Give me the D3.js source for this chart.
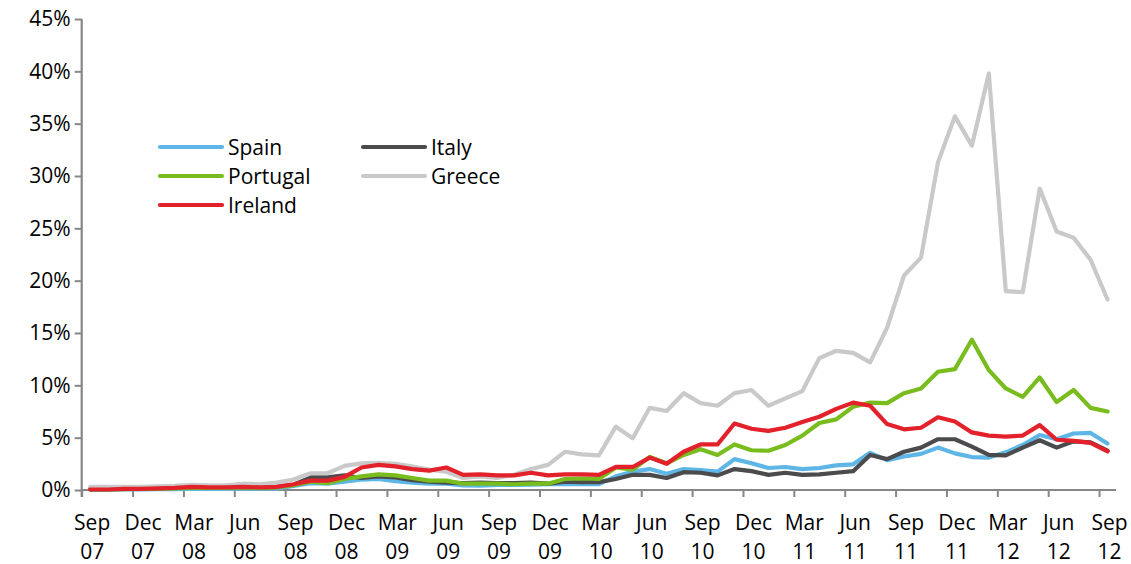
<!DOCTYPE html>
<html>
<head>
<meta charset="utf-8">
<script src="https://cdn.jsdelivr.net/npm/d3@7"></script>
<style>
  body { margin: 0; background: #fff; }
  svg { display: block; }
  text { font-family: "Open Sans", "Liberation Sans", sans-serif; fill: #000; }
</style>
</head>
<body>
<svg id="chart" width="1131" height="564"></svg>
<script>
const months = ["Sep 07","Oct 07","Nov 07","Dec 07","Jan 08","Feb 08","Mar 08","Apr 08","May 08","Jun 08","Jul 08","Aug 08",
"Sep 08","Oct 08","Nov 08","Dec 08","Jan 09","Feb 09","Mar 09","Apr 09","May 09","Jun 09","Jul 09","Aug 09",
"Sep 09","Oct 09","Nov 09","Dec 09","Jan 10","Feb 10","Mar 10","Apr 10","May 10","Jun 10","Jul 10","Aug 10",
"Sep 10","Oct 10","Nov 10","Dec 10","Jan 11","Feb 11","Mar 11","Apr 11","May 11","Jun 11","Jul 11","Aug 11",
"Sep 11","Oct 11","Nov 11","Dec 11","Jan 12","Feb 12","Mar 12","Apr 12","May 12","Jun 12","Jul 12","Aug 12","Sep 12"];

const spain = [0.02,0.02,0.05,0.05,0.07,0.08,0.1,0.1,0.1,0.15,0.12,0.15,
0.4,0.65,0.6,0.8,1.0,1.05,0.85,0.7,0.6,0.6,0.45,0.42,
0.48,0.48,0.52,0.55,0.57,0.57,0.57,1.3,1.75,2.0,1.55,2.0,
1.9,1.75,2.95,2.55,2.1,2.2,2.0,2.1,2.35,2.45,3.55,2.85,
3.2,3.45,4.05,3.5,3.15,3.1,3.6,4.3,5.25,4.85,5.4,5.45,4.45];

const italy = [0.1,0.1,0.12,0.15,0.18,0.2,0.25,0.22,0.22,0.3,0.25,0.3,
0.5,1.2,1.2,1.4,1.15,1.3,1.2,0.95,0.8,0.7,0.65,0.7,
0.65,0.65,0.7,0.6,0.8,0.75,0.75,1.05,1.45,1.45,1.15,1.7,
1.65,1.4,2.0,1.8,1.45,1.65,1.45,1.5,1.65,1.8,3.35,2.95,
3.65,4.05,4.85,4.85,4.15,3.35,3.3,4.05,4.75,4.05,4.65,4.55,3.75];

const portugal = [0.05,0.05,0.08,0.1,0.12,0.15,0.2,0.2,0.2,0.25,0.2,0.25,
0.45,0.8,0.65,1.05,1.3,1.5,1.4,1.15,0.9,0.9,0.6,0.6,
0.6,0.55,0.6,0.6,1.05,1.1,1.05,2.15,1.95,3.15,2.55,3.35,
3.9,3.35,4.35,3.8,3.75,4.3,5.2,6.4,6.75,7.95,8.35,8.3,
9.25,9.7,11.3,11.55,14.35,11.45,9.7,8.9,10.75,8.4,9.55,7.85,7.5];

const greece = [0.3,0.3,0.3,0.3,0.35,0.4,0.5,0.45,0.45,0.6,0.55,0.7,
1.0,1.6,1.6,2.3,2.55,2.6,2.5,2.25,1.95,1.75,1.15,1.3,
1.15,1.45,2.0,2.4,3.65,3.4,3.3,6.05,4.95,7.85,7.55,9.25,
8.3,8.05,9.25,9.55,8.05,8.75,9.45,12.6,13.3,13.1,12.2,15.5,
20.5,22.2,31.3,35.7,32.9,39.8,19.0,18.9,28.8,24.7,24.1,22.0,18.2];

const ireland = [0.05,0.05,0.1,0.1,0.15,0.2,0.3,0.25,0.25,0.3,0.25,0.3,
0.55,0.9,0.9,1.25,2.15,2.4,2.25,2.0,1.85,2.15,1.45,1.5,
1.4,1.4,1.65,1.4,1.5,1.5,1.45,2.2,2.2,3.1,2.5,3.65,
4.35,4.35,6.35,5.85,5.65,5.95,6.5,7.0,7.75,8.35,8.05,6.3,
5.8,5.95,6.95,6.55,5.5,5.2,5.1,5.2,6.2,4.8,4.7,4.5,3.7];

const seriesNames = ["Spain","Italy","Portugal","Greece","Ireland"];
const seriesValues = [spain, italy, portugal, greece, ireland];
const seriesColors = ["#5DB6E6","#4B4B4D","#78BC1E","#C9C9C9","#E2212B"];
const yTicks = [0,5,10,15,20,25,30,35,40,45];

const svg = d3.select("#chart");
const x = d3.scaleLinear().domain([-0.5, months.length - 0.5]).range([81.7, 1116]);
const y = d3.scaleLinear().domain([0, 45]).range([490, 19]);
const axisColor = "#878787";
const fs = "21px";

// Y axis
const yAxis = svg.append("g").attr("transform", "translate(81.7,0)")
  .call(d3.axisLeft(y).tickValues(yTicks).tickSize(7).tickPadding(4).tickFormat(d => d + "%"));
yAxis.select(".domain").attr("stroke", axisColor).attr("stroke-width", 2.2)
  .attr("d", `M0,${y(45)}V${y(0) + 7}`);
yAxis.selectAll(".tick line").attr("stroke", axisColor).attr("stroke-width", 2);
yAxis.selectAll(".tick text").style("font-size", fs).style("font-family", "'Open Sans', sans-serif").attr("fill", "#000");

// X axis
const boundaries = d3.range(0, 21).map(k => -0.5 + 3 * k);
const xAxis = svg.append("g").attr("transform", `translate(0,${y(0)})`)
  .call(d3.axisBottom(x).tickValues(boundaries).tickSize(7).tickFormat(""));
xAxis.select(".domain").attr("stroke", axisColor).attr("stroke-width", 2.2)
  .attr("d", `M${x(-0.5)},0H${x(months.length - 0.5)}`);
xAxis.selectAll(".tick line").attr("stroke", axisColor).attr("stroke-width", 2);

const labelIdx = d3.range(0, months.length, 3);
const xl = svg.append("g");
labelIdx.forEach(i => {
  const parts = months[i].split(" ");
  const t = xl.append("text").attr("text-anchor", "middle").style("font-size", fs)
    .attr("x", x(i) + 2);
  t.append("tspan").attr("x", x(i) + 2).attr("y", 530).text(parts[0]);
  t.append("tspan").attr("x", x(i) + 2).attr("y", 559).text(parts[1]);
});

// Lines
const line = d3.line().x((d, i) => x(i)).y(d => y(d));
seriesValues.forEach((vals, s) => {
  svg.append("path").datum(vals)
    .attr("fill", "none")
    .attr("stroke", seriesColors[s])
    .attr("stroke-width", 4.2)
    .attr("stroke-linejoin", "round")
    .attr("stroke-linecap", "round")
    .attr("d", line);
});

// Legend
const legendPos = [[160,147],[363,147],[160,176],[363,176],[160,205]];
seriesNames.forEach((name, s) => {
  const [lx, ly] = legendPos[s];
  svg.append("line").attr("x1", lx).attr("x2", lx + 62).attr("y1", ly).attr("y2", ly)
    .attr("stroke", seriesColors[s]).attr("stroke-width", 4.2).attr("stroke-linecap", "round");
  svg.append("text").attr("x", lx + 68).attr("y", ly + 7.5).style("font-size", fs).text(name);
});
</script>
</body>
</html>
